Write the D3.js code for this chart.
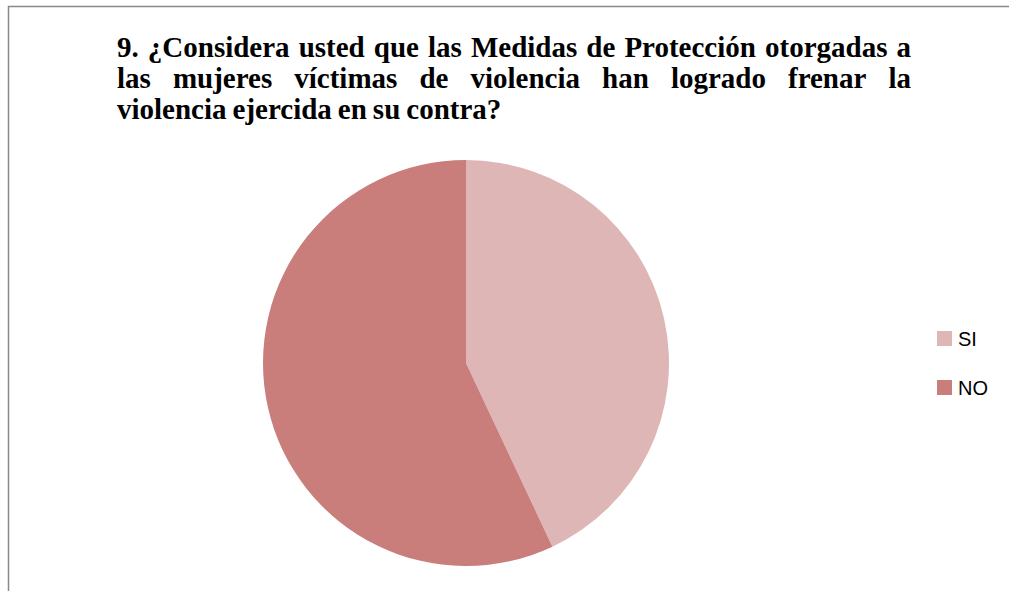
<!DOCTYPE html>
<html>
<head>
<meta charset="utf-8">
<script src="https://cdn.jsdelivr.net/npm/d3@7"></script>
<style>
  body { margin: 0; background: #fff; }
</style>
</head>
<body>
<svg></svg>
<script>
// chart data
var categories = ["SI", "NO"];
var values = [43, 57];
var colors = ["#dfb6b6", "#c97e7c"];
var titleLines = [
  "9. ¿Considera usted que las Medidas de Protección otorgadas a",
  "las mujeres víctimas de violencia han logrado frenar la",
  "violencia ejercida en su contra?"
];

var width = 1009, height = 591;
var svg = d3.select("svg").attr("width", width).attr("height", height);

// frame
svg.append("path")
  .attr("d", "M8.5,591 L8.5,6.5 L1009,6.5")
  .attr("fill", "none")
  .attr("stroke", "#888")
  .attr("stroke-width", 1.5);

// justified title (last line left aligned)
var tx0 = 117, tx1 = 911, baseY = [57, 88, 119];
titleLines.forEach(function(line, li) {
  var words = line.split(" ");
  var g = svg.append("g");
  var nodes = words.map(function(w) {
    return g.append("text")
      .attr("font-family", "Liberation Serif")
      .attr("font-weight", "bold")
      .attr("font-size", 29)
      .attr("fill", "#000")
      .attr("y", baseY[li]).text(w);
  });
  var widths = nodes.map(function(n) { return n.node().getComputedTextLength(); });
  var total = d3.sum(widths);
  var gap = (li < titleLines.length - 1) ? (tx1 - tx0 - total) / (words.length - 1) : 6;
  var x = tx0;
  nodes.forEach(function(n, i) {
    n.attr("x", x);
    x += widths[i] + gap;
  });
});

// pie
var cx = 466, cy = 363, r = 203;
var pie = d3.pie().sort(null).value(function(d) { return d; });
var arc = d3.arc().innerRadius(0).outerRadius(r);

svg.append("g")
  .attr("transform", "translate(" + cx + "," + cy + ")")
  .selectAll("path")
  .data(pie(values))
  .enter()
  .append("path")
  .attr("d", arc)
  .attr("fill", function(d, i) { return colors[i]; });

// legend
var legend = svg.append("g").attr("transform", "translate(937,331)");
var item = legend.selectAll("g")
  .data(categories)
  .enter()
  .append("g")
  .attr("transform", function(d, i) { return "translate(0," + (i * 49) + ")"; });
item.append("rect")
  .attr("width", 15).attr("height", 15)
  .attr("fill", function(d, i) { return colors[i]; });
item.append("text")
  .attr("font-family", "Liberation Sans")
  .attr("font-size", 20)
  .attr("fill", "#000")
  .attr("x", 21).attr("y", 15)
  .text(function(d) { return d; });
</script>
</body>
</html>
